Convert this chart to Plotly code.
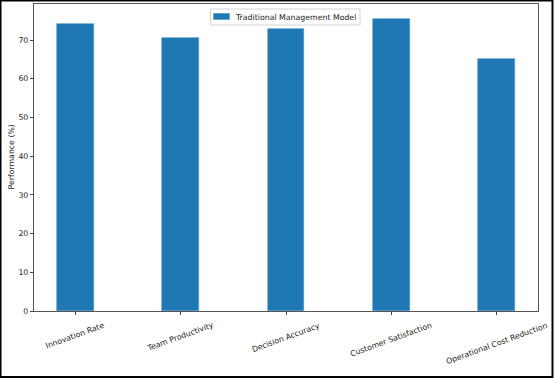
import plotly.graph_objects as go

categories = ["Innovation Rate", "Team Productivity", "Decision Accuracy",
              "Customer Satisfaction", "Operational Cost Reduction"]
traditional = [74.2, 70.4, 72.8, 75.5, 65.2]
series_name = "Traditional Management Model"
y_ticks = [0, 10, 20, 30, 40, 50, 60, 70]

W, H = 554, 378
L, R, T, B = 34, 16, 4, 67
pw, ph = W - L - R, H - T - B

def px_x(x):
    return (x - L) / pw

def px_y(y):
    return 1 - (y - T) / ph

xs = list(range(len(categories)))
fig = go.Figure()
fig.add_trace(go.Bar(x=xs, y=traditional, width=0.35, name=series_name,
                     marker=dict(color="#1f77b4", line=dict(color="#4a93c8", width=0.6)),
                     showlegend=False))

font = dict(family="DejaVu Sans", size=7.8, color="#222")
annotations = []
for i, c in enumerate(categories):
    annotations.append(dict(x=i, xref="x", y=0, yref="paper", yshift=-7,
                            text=c, showarrow=False, textangle=-20,
                            xanchor="center", yanchor="top", font=font))
annotations.append(dict(x=px_x(11), xref="paper", y=0.5, yref="paper",
                        text="Performance (%)", showarrow=False, textangle=-90,
                        xanchor="center", yanchor="middle", font=font))
# manual legend (matplotlib style)
annotations.append(dict(x=px_x(233), xref="paper", y=px_y(17), yref="paper",
                        text=series_name, showarrow=False, xanchor="left",
                        yanchor="middle", font=font))

shapes = [
    dict(type="rect", xref="paper", yref="paper",
         x0=px_x(0.5), x1=px_x(552.5), y0=px_y(377), y1=px_y(0.5),
         line=dict(color="black", width=2)),
    dict(type="rect", xref="paper", yref="paper",
         x0=px_x(210.5), x1=px_x(360), y0=px_y(25), y1=px_y(9),
         line=dict(color="#d4d4d4", width=1), fillcolor="white"),
    dict(type="rect", xref="paper", yref="paper",
         x0=px_x(213.5), x1=px_x(229.5), y0=px_y(19.5), y1=px_y(13.5),
         line=dict(color="#4a93c8", width=0.6), fillcolor="#1f77b4"),
]

fig.update_layout(
    width=W, height=H,
    margin=dict(l=L, r=R, t=T, b=B),
    paper_bgcolor="white", plot_bgcolor="white",
    font=font,
    showlegend=False,
    annotations=annotations,
    shapes=shapes,
    bargap=0,
)
fig.update_xaxes(range=[-0.3925, 4.3925], tickvals=xs, showticklabels=False,
                 ticks="outside", ticklen=3, tickcolor="#444",
                 showline=True, linecolor="#555", linewidth=1.2, mirror=True,
                 showgrid=False, zeroline=False)
fig.update_yaxes(range=[0, 79.3], tickvals=y_ticks, ticks="outside", ticklen=3,
                 tickcolor="#444", showline=True, linecolor="#555", linewidth=1.2,
                 mirror=True, showgrid=False, zeroline=False, tickfont=font)

fig.write_html("out.html", config={"displayModeBar": False},
               post_script="document.body.style.margin='0';document.body.style.overflow='hidden';")
